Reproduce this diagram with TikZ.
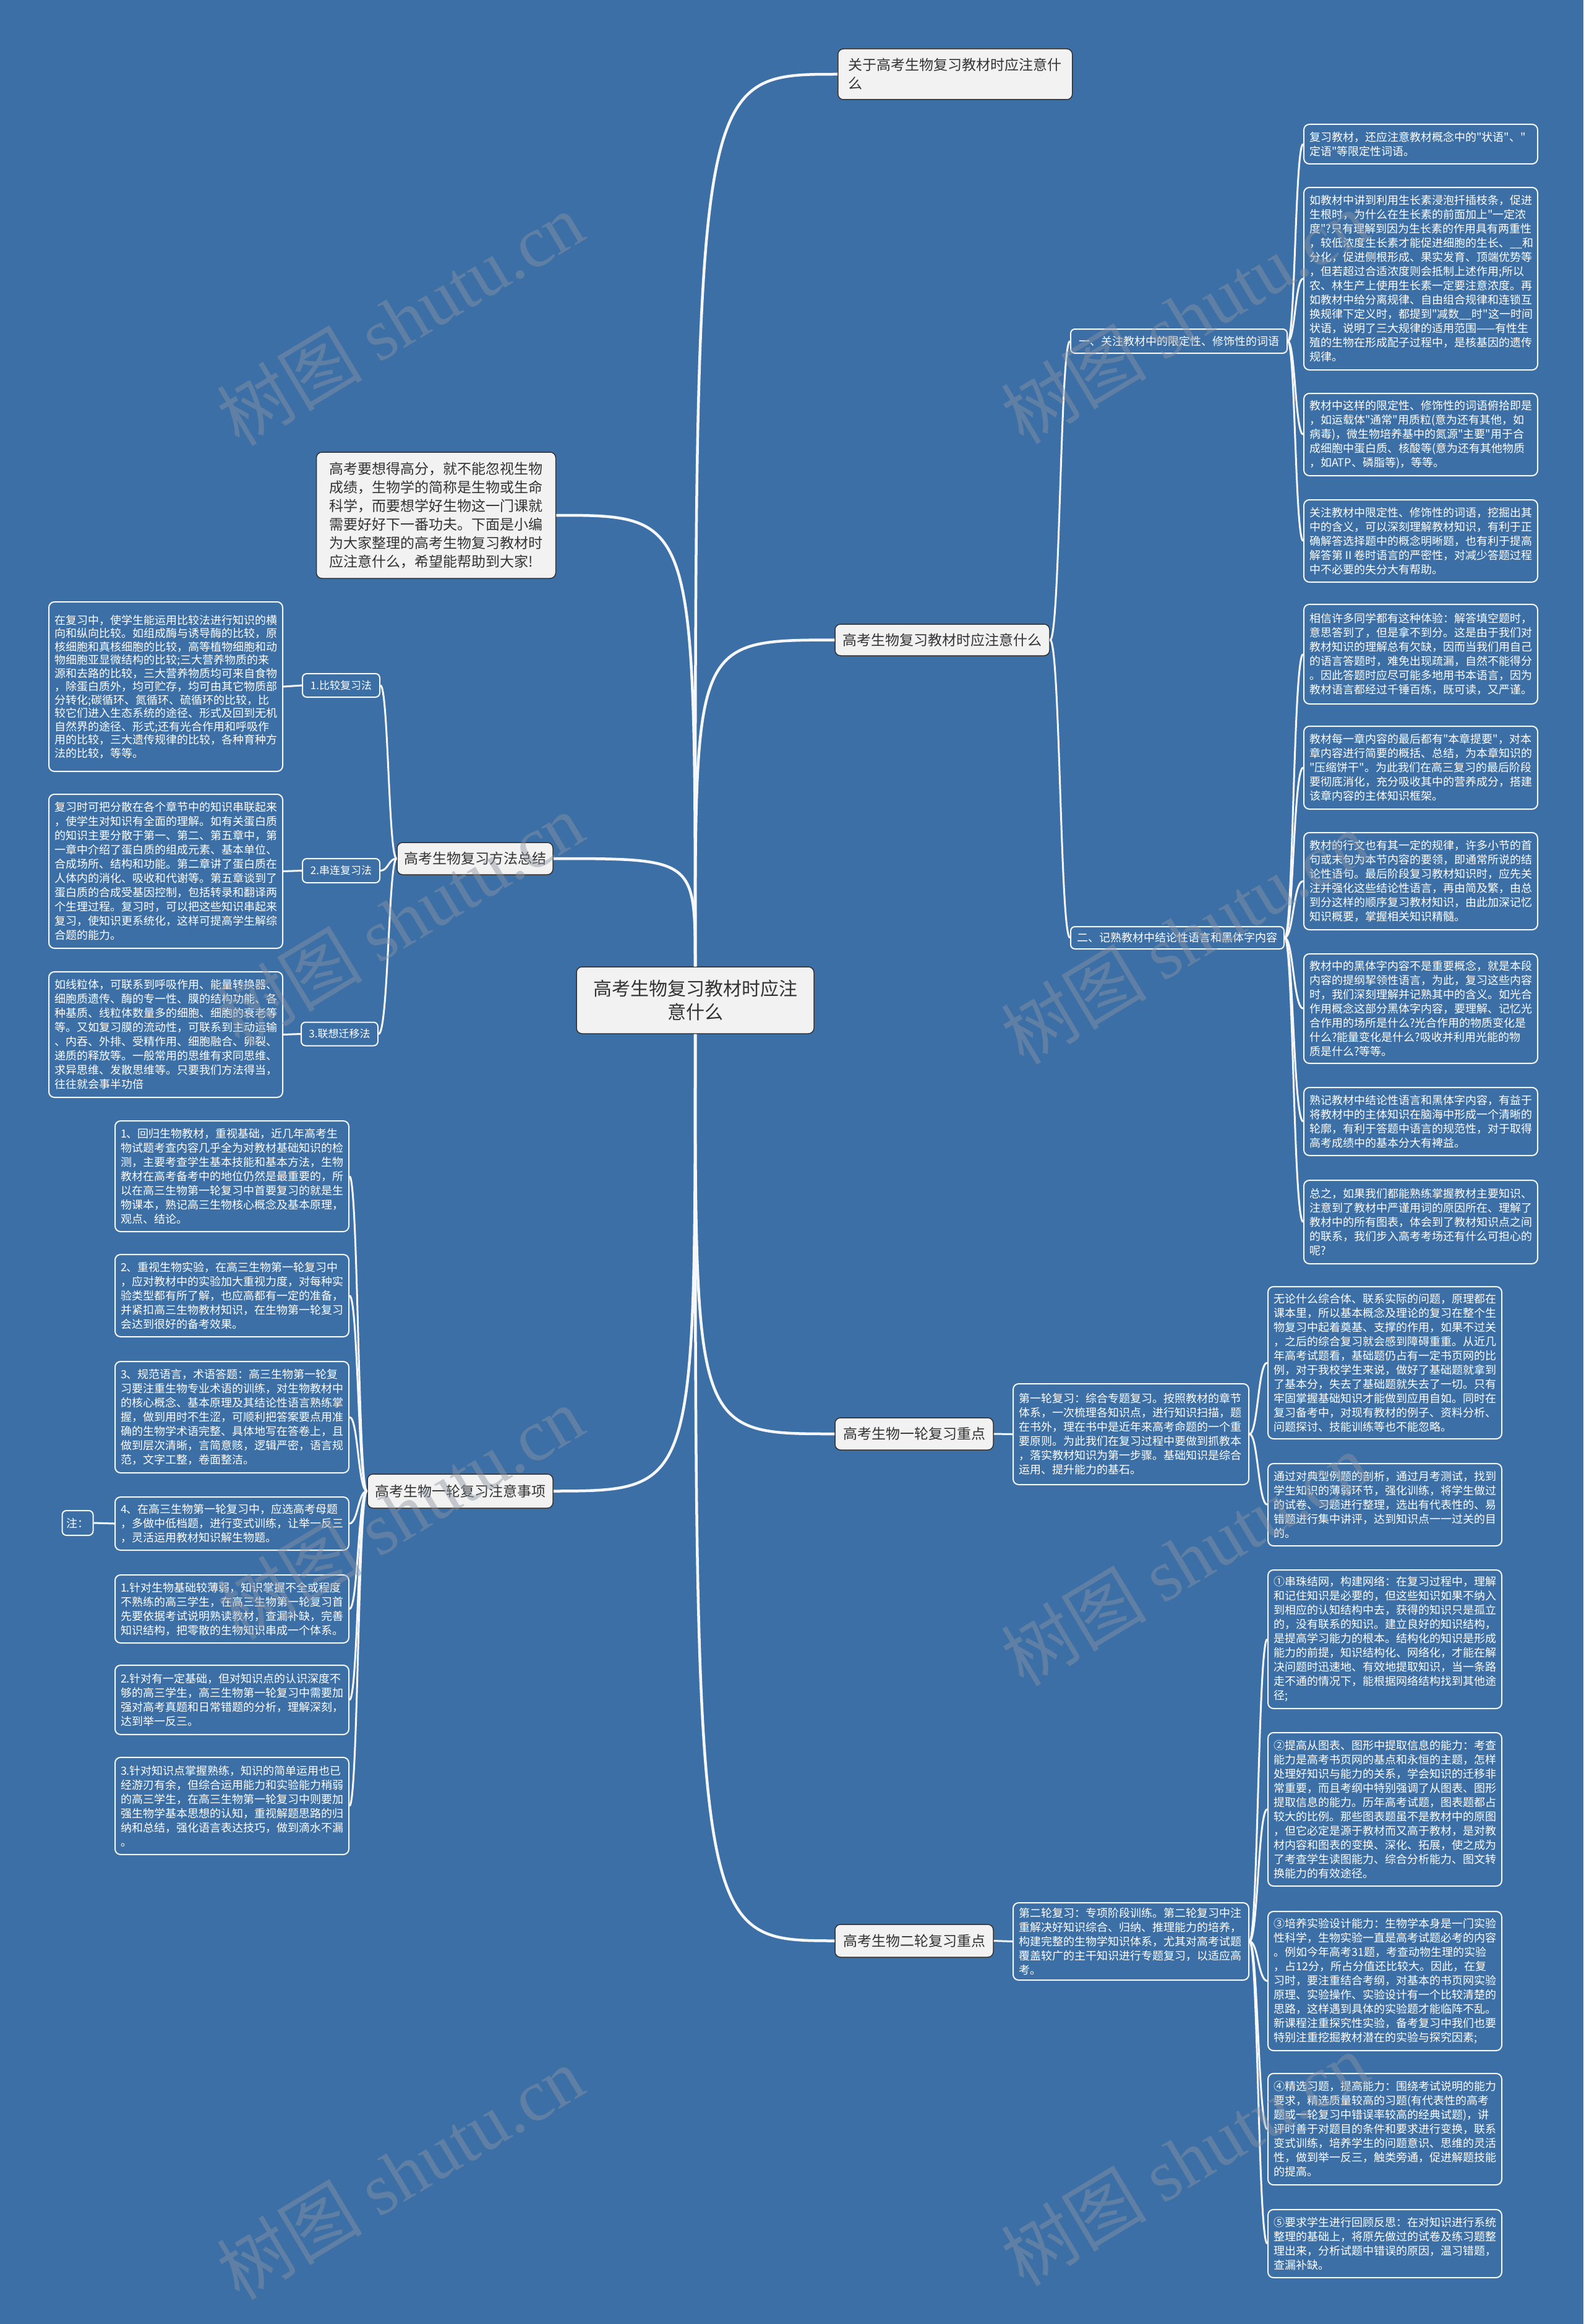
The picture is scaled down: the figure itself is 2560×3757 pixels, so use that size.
\documentclass[tikz,border=0pt]{standalone}
\usepackage{fontspec}
\setmainfont{Noto Sans CJK SC}[Ligatures=TeXOff]
\newfontfamily\wmfont{Liberation Serif}
\definecolor{bg}{RGB}{59,111,166}
\definecolor{mainfill}{RGB}{242,242,242}
\definecolor{maintext}{RGB}{51,51,51}
\definecolor{linecol}{RGB}{245,247,250}
\definecolor{wmcol}{RGB}{140,150,162}
\begin{document}
\begin{tikzpicture}[x=1pt,y=-1pt,
  tb/.style={draw=linecol, line width=2pt, rounded corners=9pt, fill=bg, text=white,
    text width=360pt, inner xsep=9pt, inner ysep=4pt, align=left, anchor=north west,
    font=\fontsize{18}{23}\selectfont},
  lab/.style={draw=linecol, line width=2pt, rounded corners=7pt, fill=bg, text=white,
    inner sep=2pt, font=\fontsize{18}{22}\selectfont},
  labs/.style={lab, font=\fontsize{17}{20}\selectfont},
  mn/.style={draw=maintext, line width=1.5pt, rounded corners=9pt, fill=mainfill, text=maintext,
    inner sep=3pt, font=\fontsize{23}{30}\selectfont},
  conn/.style={draw=linecol, line width=3pt},
  rconn/.style={draw=linecol, line width=4.5pt},
  wm/.style={text=wmcol, opacity=0.45, rotate=31, font=\fontsize{118}{120}\selectfont}
]
\useasboundingbox (0,0) rectangle (2560,3757);
\fill[bg] (0,0) rectangle (2560,3757);

% ---------- root and main nodes ----------
\node[mn, font=\fontsize{30}{38}\selectfont, text width=330pt, align=center,
  minimum width=384pt, minimum height=108pt] (R) at (1124,1617)
  {高考生物复习教材时应注\\意什么};

\node[mn, anchor=west, text width=345pt, align=left, inner xsep=17pt,
  minimum height=82pt] (T1) at (1354,120)
  {关于高考生物复习教材时应注意什\\么};

\node[mn, text width=345pt, align=left, inner xsep=21pt, minimum height=204pt] (IN) at (705,833)
  {高考要想得高分，就不能忽视生物\\成绩，生物学的简称是生物或生命\\科学，而要想学好生物这一门课就\\需要好好下一番功夫。下面是小编\\为大家整理的高考生物复习教材时\\应注意什么，希望能帮助到大家!};

\node[mn, minimum width=347pt, minimum height=51pt] (T2) at (1523.5,1034.5) {高考生物复习教材时应注意什么};
\node[mn, minimum width=252pt, minimum height=52pt] (T3) at (768,1388) {高考生物复习方法总结};
\node[mn, minimum width=300pt, minimum height=55pt] (T4) at (744,2410.5) {高考生物一轮复习注意事项};
\node[mn, minimum width=256pt, minimum height=52pt] (T5) at (1478,2318) {高考生物一轮复习重点};
\node[mn, minimum width=256pt, minimum height=53pt] (T6) at (1478,3137.5) {高考生物二轮复习重点};

% ---------- labels ----------
\node[lab, minimum width=350pt, minimum height=39pt] (La) at (1906,551.5) {一、关注教材中的限定性、修饰性的词语};
\node[lab, minimum width=345pt, minimum height=36pt] (Lb) at (1903.5,1516) {二、记熟教材中结论性语言和黑体字内容};
\node[labs, minimum width=125pt, minimum height=38pt] (M1) at (551.5,1108) {1.比较复习法};
\node[labs, minimum width=125pt, minimum height=39pt] (M2) at (551.5,1407.5) {2.串连复习法};
\node[labs, minimum width=124pt, minimum height=38pt] (M3) at (549,1671.5) {3.联想迁移法};
\node[lab, minimum width=50pt, minimum height=40pt] (ZH) at (125.5,2462) {注：};

% ---------- right column, first subtree ----------
\node[tb, minimum height=64pt] (A) at (2107,200)
  {复习教材，还应注意教材概念中的"状语"、"\\定语"等限定性词语。};
\node[tb, minimum height=295pt] (B) at (2107,302)
  {如教材中讲到利用生长素浸泡扦插枝条，促进\\生根时，为什么在生长素的前面加上"一定浓\\度"?只有理解到因为生长素的作用具有两重性\\，较低浓度生长素才能促进细胞的生长、\_\_和\\分化，促进侧根形成、果实发育、顶端优势等\\，但若超过合适浓度则会抵制上述作用;所以\\农、林生产上使用生长素一定要注意浓度。再\\如教材中给分离规律、自由组合规律和连锁互\\换规律下定义时，都提到"减数\_\_时"这一时间\\状语，说明了三大规律的适用范围——有性生\\殖的生物在形成配子过程中，是核基因的遗传\\规律。};
\node[tb, minimum height=133pt] (C) at (2107,635)
  {教材中这样的限定性、修饰性的词语俯拾即是\\，如运载体"通常"用质粒(意为还有其他，如\\病毒)，微生物培养基中的氮源"主要"用于合\\成细胞中蛋白质、核酸等(意为还有其他物质\\，如ATP、磷脂等)，等等。};
\node[tb, minimum height=133pt] (D) at (2107,807)
  {关注教材中限定性、修饰性的词语，挖掘出其\\中的含义，可以深刻理解教材知识，有利于正\\确解答选择题中的概念明晰题，也有利于提高\\解答第Ⅱ卷时语言的严密性，对减少答题过程\\中不必要的失分大有帮助。};

\node[tb, minimum height=161pt] (E) at (2107,976)
  {相信许多同学都有这种体验：解答填空题时，\\意思答到了，但是拿不到分。这是由于我们对\\教材知识的理解总有欠缺，因而当我们用自己\\的语言答题时，难免出现疏漏，自然不能得分\\。因此答题时应尽可能多地用书本语言，因为\\教材语言都经过千锤百炼，既可读，又严谨。};
\node[tb, minimum height=134pt] (F) at (2107,1173)
  {教材每一章内容的最后都有"本章提要"，对本\\章内容进行简要的概括、总结，为本章知识的\\"压缩饼干"。为此我们在高三复习的最后阶段\\要彻底消化，充分吸收其中的营养成分，搭建\\该章内容的主体知识框架。};
\node[tb, minimum height=157pt] (G) at (2107,1345)
  {教材的行文也有其一定的规律，许多小节的首\\句或末句为本节内容的要领，即通常所说的结\\论性语句。最后阶段复习教材知识时，应先关\\注并强化这些结论性语言，再由简及繁，由总\\到分这样的顺序复习教材知识，由此加深记忆\\知识概要，掌握相关知识精髓。};
\node[tb, minimum height=177pt] (H) at (2107,1541)
  {教材中的黑体字内容不是重要概念，就是本段\\内容的提纲挈领性语言，为此，复习这些内容\\时，我们深刻理解并记熟其中的含义。如光合\\作用概念这部分黑体字内容，要理解、记忆光\\合作用的场所是什么?光合作用的物质变化是\\什么?能量变化是什么?吸收并利用光能的物\\质是什么?等等。};
\node[tb, minimum height=110pt] (I) at (2107,1757)
  {熟记教材中结论性语言和黑体字内容，有益于\\将教材中的主体知识在脑海中形成一个清晰的\\轮廓，有利于答题中语言的规范性，对于取得\\高考成绩中的基本分大有裨益。};
\node[tb, minimum height=135pt] (J) at (2107,1907)
  {总之，如果我们都能熟练掌握教材主要知识、\\注意到了教材中严谨用词的原因所在、理解了\\教材中的所有图表，体会到了教材知识点之间\\的联系，我们步入高考考场还有什么可担心的\\呢?};

% ---------- first / second round ----------
\node[tb, text width=363pt, minimum height=163pt] (S1) at (1637,2236)
  {第一轮复习：综合专题复习。按照教材的章节\\体系，一次梳理各知识点，进行知识扫描，题\\在书外，理在书中是近年来高考命题的一个重\\要原则。为此我们在复习过程中要做到抓教本\\，落实教材知识为第一步骤。基础知识是综合\\运用、提升能力的基石。};
\node[tb, minimum height=246pt] (K) at (2049,2079)
  {无论什么综合体、联系实际的问题，原理都在\\课本里，所以基本概念及理论的复习在整个生\\物复习中起着奠基、支撑的作用，如果不过关\\，之后的综合复习就会感到障碍重重。从近几\\年高考试题看，基础题仍占有一定书页网的比\\例，对于我校学生来说，做好了基础题就拿到\\了基本分，失去了基础题就失去了一切。只有\\牢固掌握基础知识才能做到应用自如。同时在\\复习备考中，对现有教材的例子、资料分析、\\问题探讨、技能训练等也不能忽略。};
\node[tb, minimum height=133pt] (L) at (2049,2365)
  {通过对典型例题的剖析，通过月考测试，找到\\学生知识的薄弱环节，强化训练，将学生做过\\的试卷、习题进行整理，选出有代表性的、易\\错题进行集中讲评，达到知识点一一过关的目\\的。};

\node[tb, text width=363pt, minimum height=125pt] (S2) at (1637,3075)
  {第二轮复习：专项阶段训练。第二轮复习中注\\重解决好知识综合、归纳、推理能力的培养，\\构建完整的生物学知识体系，尤其对高考试题\\覆盖较广的主干知识进行专题复习，以适应高\\考。};
\node[tb, minimum height=224pt] (MM) at (2049,2537)
  {①串珠结网，构建网络：在复习过程中，理解\\和记住知识是必要的，但这些知识如果不纳入\\到相应的认知结构中去，获得的知识只是孤立\\的，没有联系的知识。建立良好的知识结构，\\是提高学习能力的根本。结构化的知识是形成\\能力的前提，知识结构化、网络化，才能在解\\决问题时迅速地、有效地提取知识，当一条路\\走不通的情况下，能根据网络结构找到其他途\\径;};
\node[tb, minimum height=248pt] (NN) at (2049,2800)
  {②提高从图表、图形中提取信息的能力：考查\\能力是高考书页网的基点和永恒的主题，怎样\\处理好知识与能力的关系，学会知识的迁移非\\常重要，而且考纲中特别强调了从图表、图形\\提取信息的能力。历年高考试题，图表题都占\\较大的比例。那些图表题虽不是教材中的原图\\，但它必定是源于教材而又高于教材，是对教\\材内容和图表的变换、深化、拓展，使之成为\\了考查学生读图能力、综合分析能力、图文转\\换能力的有效途径。};
\node[tb, minimum height=225pt] (OO) at (2049,3089)
  {③培养实验设计能力：生物学本身是一门实验\\性科学，生物实验一直是高考试题必考的内容\\。例如今年高考31题，考查动物生理的实验\\，占12分，所占分值还比较大。因此，在复\\习时，要注重结合考纲，对基本的书页网实验\\原理、实验操作、实验设计有一个比较清楚的\\思路，这样遇到具体的实验题才能临阵不乱。\\新课程注重探究性实验，备考复习中我们也要\\特别注重挖掘教材潜在的实验与探究因素;};
\node[tb, minimum height=180pt] (PP) at (2049,3351)
  {④精选习题，提高能力：围绕考试说明的能力\\要求，精选质量较高的习题(有代表性的高考\\题或一轮复习中错误率较高的经典试题)，讲\\评时善于对题目的条件和要求进行变换，联系\\变式训练，培养学生的问题意识、思维的灵活\\性，做到举一反三，触类旁通，促进解题技能\\的提高。};
\node[tb, minimum height=110pt] (QQ) at (2049,3571)
  {⑤要求学生进行回顾反思：在对知识进行系统\\整理的基础上，将原先做过的试卷及练习题整\\理出来，分析试题中错误的原因，温习错题，\\查漏补缺。};

% ---------- left: methods ----------
\node[tb, font=\fontsize{18}{21.5}\selectfont, minimum height=274pt] (L1) at (78,972)
  {在复习中，使学生能运用比较法进行知识的横\\向和纵向比较。如组成酶与诱导酶的比较，原\\核细胞和真核细胞的比较，高等植物细胞和动\\物细胞亚显微结构的比较;三大营养物质的来\\源和去路的比较，三大营养物质均可来自食物\\，除蛋白质外，均可贮存，均可由其它物质部\\分转化;碳循环、氮循环、硫循环的比较，比\\较它们进入生态系统的途径、形式及回到无机\\自然界的途径、形式;还有光合作用和呼吸作\\用的比较，三大遗传规律的比较，各种育种方\\法的比较，等等。};
\node[tb, minimum height=249pt] (L2) at (78,1283)
  {复习时可把分散在各个章节中的知识串联起来\\，使学生对知识有全面的理解。如有关蛋白质\\的知识主要分散于第一、第二、第五章中，第\\一章中介绍了蛋白质的组成元素、基本单位、\\合成场所、结构和功能。第二章讲了蛋白质在\\人体内的消化、吸收和代谢等。第五章谈到了\\蛋白质的合成受基因控制，包括转录和翻译两\\个生理过程。复习时，可以把这些知识串起来\\复习，使知识更系统化，这样可提高学生解综\\合题的能力。};
\node[tb, minimum height=203pt] (L3) at (78,1570)
  {如线粒体，可联系到呼吸作用、能量转换器、\\细胞质遗传、酶的专一性、膜的结构功能、各\\种基质、线粒体数量多的细胞、细胞的衰老等\\等。又如复习膜的流动性，可联系到主动运输\\、内吞、外排、受精作用、细胞融合、卵裂、\\递质的释放等。一般常用的思维有求同思维、\\求异思维、发散思维等。只要我们方法得当，\\往往就会事半功倍};

% ---------- left: first round notes ----------
\node[tb, minimum height=179pt] (LB1) at (185,1811)
  {1、回归生物教材，重视基础，近几年高考生\\物试题考查内容几乎全为对教材基础知识的检\\测，主要考查学生基本技能和基本方法，生物\\教材在高考备考中的地位仍然是最重要的，所\\以在高三生物第一轮复习中首要复习的就是生\\物课本，熟记高三生物核心概念及基本原理，\\观点、结论。};
\node[tb, minimum height=133pt] (LB2) at (185,2027)
  {2、重视生物实验，在高三生物第一轮复习中\\，应对教材中的实验加大重视力度，对每种实\\验类型都有所了解，也应高都有一定的准备，\\并紧扣高三生物教材知识，在生物第一轮复习\\会达到很好的备考效果。};
\node[tb, minimum height=180pt] (LB3) at (185,2200)
  {3、规范语言，术语答题：高三生物第一轮复\\习要注重生物专业术语的训练，对生物教材中\\的核心概念、基本原理及其结论性语言熟练掌\\握，做到用时不生涩，可顺利把答案要点用准\\确的生物学术语完整、具体地写在答卷上，且\\做到层次清晰，言简意赅，逻辑严密，语言规\\范，文字工整，卷面整洁。};
\node[tb, minimum height=86pt] (LB4) at (185,2419)
  {4、在高三生物第一轮复习中，应选高考母题\\，多做中低档题，进行变式训练，让举一反三\\，灵活运用教材知识解生物题。};
\node[tb, minimum height=110pt] (LB5) at (185,2545)
  {1.针对生物基础较薄弱，知识掌握不全或程度\\不熟练的高三学生，在高三生物第一轮复习首\\先要依据考试说明熟读教材，查漏补缺，完善\\知识结构，把零散的生物知识串成一个体系。};
\node[tb, minimum height=112pt] (LB6) at (185,2691)
  {2.针对有一定基础，但对知识点的认识深度不\\够的高三学生，高三生物第一轮复习中需要加\\强对高考真题和日常错题的分析，理解深刻，\\达到举一反三。};
\node[tb, minimum height=157pt] (LB7) at (185,2840)
  {3.针对知识点掌握熟练，知识的简单运用也已\\经游刃有余，但综合运用能力和实验能力稍弱\\的高三学生，在高三生物第一轮复习中则要加\\强生物学基本思想的认知，重视解题思路的归\\纳和总结，强化语言表达技巧，做到滴水不漏\\。};

% ---------- connectors from root ----------
\draw[rconn] (R.north) .. controls (1124,120) .. (T1.west);
\draw[rconn] (R.north) .. controls (1124,833) .. (IN.east);
\draw[rconn] (R.north) .. controls (1124,1035) .. (T2.west);
\draw[rconn] (R.north) .. controls (1124,1388) .. (T3.east);
\draw[rconn] (R.south) .. controls (1124,2410) .. (T4.east);
\draw[rconn] (R.south) .. controls (1124,2318) .. (T5.west);
\draw[rconn] (R.south) .. controls (1124,3137) .. (T6.west);

% ---------- T2 subtree ----------
\draw[conn] (T2.east) .. controls (1714,1035) and (1714,551) .. (La.west);
\draw[conn] (T2.east) .. controls (1714,1035) and (1714,1516) .. (Lb.west);
\foreach \n/\yy in {A/232,B/449.5,C/701.5,D/873.5}
  \draw[conn] (La.east) .. controls (2094,551.5) and (2094,\yy) .. (\n.west);
\foreach \n/\yy in {E/1056.5,F/1240,G/1423.5,H/1629.5,I/1812,J/1974.5}
  \draw[conn] (Lb.east) .. controls (2091,1516) and (2091,\yy) .. (\n.west);

% ---------- T3 subtree ----------
\foreach \n/\yy in {M1/1108,M2/1407.5,M3/1671.5}
  \draw[conn] (T3.west) .. controls (628,1388) and (628,\yy) .. (\n.east);
\draw[conn] (M1.west) -- (L1.east);
\draw[conn] (M2.west) -- (L2.east);
\draw[conn] (M3.west) -- (L3.east);

% ---------- T4 subtree ----------
\foreach \n/\yy in {LB1/1900.5,LB2/2093.5,LB3/2290,LB4/2462,LB5/2600,LB6/2747,LB7/2918.5}
  \draw[conn] (T4.west) .. controls (579,2410.5) and (579,\yy) .. (\n.east);
\draw[conn] (LB4.west) -- (ZH.east);

% ---------- T5 / T6 subtrees ----------
\draw[conn] (T5.east) -- (S1.west);
\foreach \n/\yy in {K/2202,L/2431.5}
  \draw[conn] (S1.east) .. controls (2034,2317.5) and (2034,\yy) .. (\n.west);
\draw[conn] (T6.east) -- (S2.west);
\foreach \n/\yy in {MM/2649,NN/2924,OO/3201.5,PP/3441,QQ/3626}
  \draw[conn] (S2.east) .. controls (2034,3137.5) and (2034,\yy) .. (\n.west);

% ---------- watermarks ----------
\foreach \wx/\wy in {647/515,1915/512,647/1486,1915/1515,647/2445,1915/2520,647/3512,1915/3490}
  \node[wm] at (\wx,\wy) {树图 {\wmfont shutu.cn}};
\end{tikzpicture}
\end{document}
